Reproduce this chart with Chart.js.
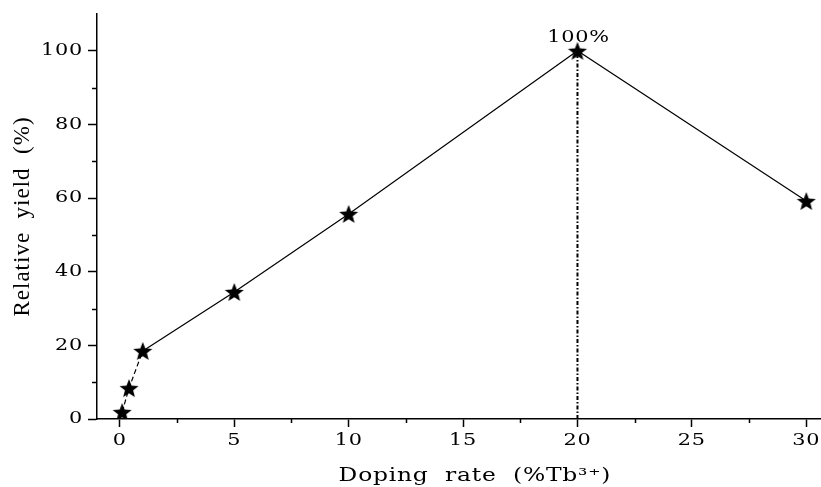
<!DOCTYPE html>
<html>
<head>
<meta charset="utf-8">
<script src="https://cdn.jsdelivr.net/npm/chart.js@4.4.1/dist/chart.umd.min.js"></script>
<style>
  html, body { margin: 0; padding: 0; background: #fff; overflow: hidden; }
  #wrap { width: 821px; height: 487px; }
</style>
</head>
<body>
<div id="wrap"><canvas id="yieldChart"></canvas></div>
<script>
// values
const dopingRate = [0.1, 0.4, 1, 5, 10, 20, 30];
const relativeYield = [1.9, 8.4, 18.5, 34.5, 55.7, 100, 59.2];

const xMajorTicks = [0, 5, 10, 15, 20, 25, 30];
const xMinorTicks = [2.5, 7.5, 12.5, 17.5, 22.5, 27.5];
const yMajorTicks = [0, 20, 40, 60, 80, 100];
const yMinorTicks = [10, 30, 50, 70, 90];

const peakIndex = relativeYield.indexOf(Math.max(...relativeYield));
const peakLabel = '100%';

// the original figure uses a wide serif face; stretch DejaVu Serif sideways
const STRETCH = 1.3;

function makeStar(size) {
    const c = document.createElement('canvas');
    c.width = size;
    c.height = size;
    const g = c.getContext('2d');
    const R = size / 2, r = R * 0.43;
    g.beginPath();
    for (let i = 0; i < 10; i++) {
        const a = -Math.PI / 2 + i * Math.PI / 5;
        const rad = i % 2 ? r : R;
        const px = R + rad * Math.cos(a), py = R + rad * Math.sin(a) + 1;
        if (i === 0) g.moveTo(px, py); else g.lineTo(px, py);
    }
    g.closePath();
    g.fillStyle = '#000';
    g.fill();
    return c;
}

const wideTextPlugin = {
    id: 'wideText',
    beforeDraw(chart) {
        const ctx = chart.ctx;
        if (ctx._wide) return;
        const orig = ctx.fillText;
        ctx.fillText = function (text, x, y) {
            if (!this.font.includes('DejaVu Serif')) {
                this.letterSpacing = '1px';
                return orig.call(this, text, x, y);
            }
            this.save();
            this.letterSpacing = '0.6px';
            this.translate(x, y);
            this.scale(STRETCH, 1);
            orig.call(this, text, 0, 0);
            this.restore();
        };
        ctx._wide = true;
    }
};

const extrasPlugin = {
    id: 'extras',
    afterDraw(chart) {
        const { ctx, scales } = chart;
        const x = scales.x, y = scales.y;
        ctx.save();
        ctx.strokeStyle = '#000';
        ctx.lineWidth = 1.5;
        ctx.beginPath();
        yMinorTicks.forEach(v => {
            const py = Math.round(y.getPixelForValue(v)) + 0.5;
            ctx.moveTo(x.left - 5, py);
            ctx.lineTo(x.left, py);
        });
        xMinorTicks.forEach(v => {
            const px = Math.round(x.getPixelForValue(v)) + 0.5;
            ctx.moveTo(px, y.bottom);
            ctx.lineTo(px, y.bottom + 4);
        });
        ctx.stroke();

        ctx.fillStyle = '#000';
        ctx.font = '16px "DejaVu Serif"';
        ctx.textAlign = 'center';
        ctx.textBaseline = 'alphabetic';
        const px = x.getPixelForValue(dopingRate[peakIndex]);
        const py = y.getPixelForValue(relativeYield[peakIndex]);
        ctx.fillText(peakLabel, px + 1, py - 9);
        ctx.restore();
    }
};

new Chart(document.getElementById('yieldChart'), {
    type: 'scatter',
    data: {
        datasets: [{
            data: dopingRate.map((d, i) => ({ x: d, y: relativeYield[i] })),
            showLine: true,
            borderColor: '#000',
            borderWidth: 1.2,
            pointStyle: makeStar(20),
            pointRadius: 10,
            segment: {
                borderDash: ctx => ctx.p1DataIndex <= 2 ? [5, 3] : undefined
            }
        }, {
            data: [
                { x: dopingRate[peakIndex], y: 0 },
                { x: dopingRate[peakIndex], y: relativeYield[peakIndex] }
            ],
            showLine: true,
            borderColor: '#000',
            borderWidth: 2,
            borderDash: [4, 2, 1.5, 2],
            pointRadius: 0
        }]
    },
    options: {
        responsive: true,
        maintainAspectRatio: false,
        animation: false,
        layout: { autoPadding: false, padding: { top: 14, right: 1, left: 0, bottom: 0 } },
        plugins: {
            legend: { display: false },
            tooltip: { enabled: false }
        },
        scales: {
            x: {
                type: 'linear',
                min: -1,
                max: 30.6,
                afterBuildTicks: s => { s.ticks = xMajorTicks.map(v => ({ value: v })); },
                afterFit: s => { s.height = 68; s.paddingLeft = 0; s.paddingRight = 0; },
                grid: { drawOnChartArea: false, drawTicks: true, tickLength: 8, tickWidth: 1.5, color: '#000' },
                border: { display: true, color: '#000', width: 1.5 },
                ticks: {
                    color: '#000',
                    padding: 4,
                    maxRotation: 0,
                    autoSkip: false,
                    font: { family: 'DejaVu Serif', size: 16 }
                },
                title: {
                    display: true,
                    text: '    Doping  rate  (%Tb³⁺)',
                    color: '#000',
                    font: { family: 'DejaVu Serif', size: 18 },
                    padding: { top: 0, bottom: 0 }
                }
            },
            y: {
                min: 0,
                max: 110,
                afterBuildTicks: s => { s.ticks = yMajorTicks.map(v => ({ value: v })); },
                afterFit: s => { s.width = 97; s.paddingTop = 0; s.paddingBottom = 0; },
                grid: { drawOnChartArea: false, drawTicks: true, tickLength: 9, tickWidth: 1.5, color: '#000' },
                border: { display: true, color: '#000', width: 1.5 },
                ticks: {
                    color: '#000',
                    padding: 5,
                    font: { family: 'DejaVu Serif', size: 16 }
                },
                title: {
                    display: true,
                    text: 'Relative  yield  (%)',
                    color: '#000',
                    font: { family: 'Liberation Serif', size: 23 },
                    padding: { top: 9, bottom: 0 }
                }
            }
        }
    },
    plugins: [wideTextPlugin, extrasPlugin]
});
</script>
</body>
</html>
